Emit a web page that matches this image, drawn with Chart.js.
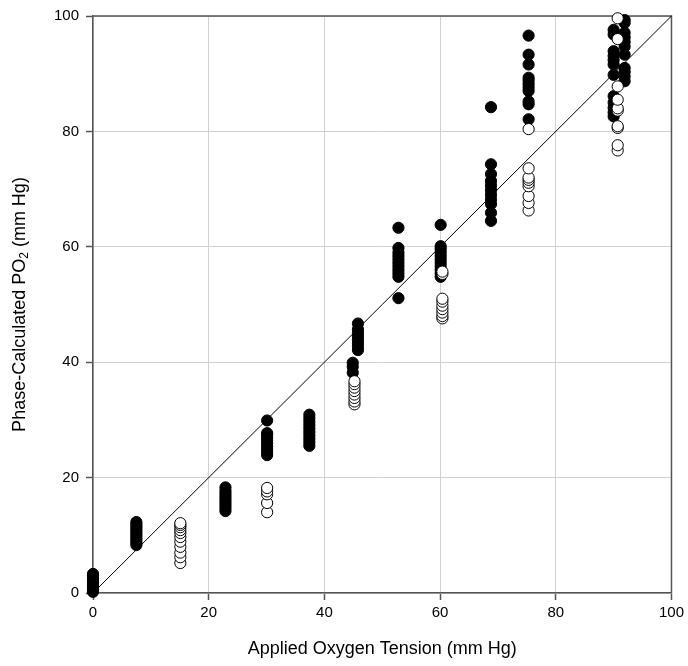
<!DOCTYPE html>
<html>
<head>
<meta charset="utf-8">
<script src="https://cdn.jsdelivr.net/npm/chart.js@4.4.1/dist/chart.umd.min.js"></script>
<style>
  html, body { margin: 0; padding: 0; background: #fff; }
  #wrap { width: 688px; height: 666px; }
</style>
</head>
<body>
<div id="wrap"><canvas id="chart" width="688" height="666"></canvas></div>
<script>
// Applied tension levels and the readings taken at each one
const filledTension = [0, 7.5, 22.9, 30.1, 37.4, 44.9, 45.8, 52.8, 60.1, 68.8, 75.3, 90.0, 91.9];
const filledReadings = [
  [0.2, 0.6, 1.0, 1.4, 1.8, 2.2, 2.6, 3.0, 3.3],
  [8.3, 8.7, 9.1, 9.5, 9.9, 10.3, 10.7, 11.1, 11.5, 11.9, 12.3],
  [14.2, 14.7, 15.2, 15.7, 16.2, 16.7, 17.2, 17.7, 18.3],
  [23.9, 24.4, 24.9, 25.4, 25.9, 26.4, 26.9, 27.4, 27.7, 29.9],
  [25.5, 26.1, 26.7, 27.3, 27.9, 28.5, 29.1, 29.7, 30.3, 30.9],
  [38.2, 39.2, 39.9],
  [42.1, 42.7, 43.3, 43.9, 44.5, 45.1, 45.7, 46.7],
  [51.1, 54.8, 55.4, 56.0, 56.6, 57.2, 57.8, 58.4, 59.0, 59.8, 63.3],
  [54.8, 55.4, 56.0, 56.6, 57.2, 57.8, 58.4, 59.0, 59.6, 60.1, 63.8],
  [64.5, 65.9, 67.4, 68.2, 69.0, 69.8, 70.6, 71.4, 72.6, 74.3, 84.2],
  [82.1, 84.7, 85.2, 87.0, 87.6, 88.2, 88.8, 89.3, 91.6, 93.3, 96.6],
  [82.6, 83.3, 84.1, 85.0, 86.1, 89.8, 91.6, 92.4, 93.1, 93.9, 96.8, 97.6],
  [88.7, 89.5, 90.3, 91.0, 93.3, 94.7, 95.5, 96.3, 97.1, 98.8, 99.3]
];

const openTension = [15.1, 30.1, 45.2, 60.4, 75.3, 90.7];
const openReadings = [
  [5.2, 6.2, 7.0, 8.0, 8.9, 9.7, 10.4, 10.9, 11.4, 11.8, 12.1],
  [14.0, 15.6, 17.1, 17.6, 18.2],
  [32.7, 33.2, 33.8, 34.4, 35.0, 35.6, 36.2, 36.7],
  [47.6, 48.0, 48.6, 49.2, 49.8, 50.5, 51.0, 55.3, 55.7],
  [66.3, 67.6, 68.8, 70.5, 71.1, 71.6, 72.0, 73.6, 80.4],
  [76.7, 77.6, 80.6, 80.9, 83.6, 84.0, 85.5, 87.8, 96.0, 99.6]
];

// line of identity
const identityX = [0, 100];
const identityY = [0, 100];

const axisTicks = [0, 20, 40, 60, 80, 100];

function toPoints(levels, readings) {
  const pts = [];
  levels.forEach((x, i) => {
    readings[i].forEach(y => pts.push({ x: x, y: y }));
  });
  return pts;
}

const FONT = 'Arial, "Liberation Sans", Helvetica, sans-serif';
const AXIS_COLOR = '#555';

// Frame on top / right (under the points), and y title with subscript
const framePlugin = {
  id: 'frame',
  beforeDatasetsDraw(chart) {
    const { ctx, chartArea } = chart;
    ctx.save();
    ctx.strokeStyle = AXIS_COLOR;
    ctx.lineWidth = 1.5;
    ctx.beginPath();
    ctx.moveTo(chartArea.left, chartArea.top);
    ctx.lineTo(chartArea.right, chartArea.top);
    ctx.lineTo(chartArea.right, chartArea.bottom);
    ctx.stroke();
    ctx.restore();
  },
  afterDraw(chart) {
    const { ctx, chartArea } = chart;
    ctx.save();
    const cy = (chartArea.top + chartArea.bottom) / 2;
    ctx.translate(20, cy);
    ctx.rotate(-Math.PI / 2);
    ctx.fillStyle = '#000';
    ctx.textBaseline = 'middle';
    const big = '18px ' + FONT;
    const small = '12px ' + FONT;
    const parts = [
      { t: 'Phase-Calculated PO', f: big, dy: 0 },
      { t: '2', f: small, dy: 5 },
      { t: ' (mm Hg)', f: big, dy: 0 }
    ];
    let total = 0;
    parts.forEach(p => { ctx.font = p.f; p.w = ctx.measureText(p.t).width; total += p.w; });
    let x = -total / 2;
    parts.forEach(p => {
      ctx.font = p.f;
      ctx.fillText(p.t, x, p.dy);
      x += p.w;
    });
    ctx.restore();
  }
};

const ctx = document.getElementById('chart').getContext('2d');

new Chart(ctx, {
  type: 'scatter',
  data: {
    datasets: [{
      label: 'identity',
      data: identityX.map((x, i) => ({ x: x, y: identityY[i] })),
      showLine: true,
      borderColor: '#000',
      borderWidth: 1,
      pointRadius: 0,
      clip: false,
      order: 0
    }, {
      label: 'open',
      data: toPoints(openTension, openReadings),
      backgroundColor: '#fff',
      borderColor: '#000',
      borderWidth: 1,
      pointRadius: 5.6,
      clip: false,
      order: 1
    }, {
      label: 'filled',
      data: toPoints(filledTension, filledReadings),
      backgroundColor: '#000',
      borderColor: '#000',
      borderWidth: 1,
      pointRadius: 5.6,
      clip: false,
      order: 2
    }]
  },
  options: {
    responsive: false,
    animation: false,
    layout: { padding: { top: 15, right: 16, left: 0, bottom: 0 } },
    plugins: {
      legend: { display: false },
      tooltip: { enabled: false }
    },
    scales: {
      x: {
        type: 'linear',
        min: 0,
        max: 100,
        afterBuildTicks: s => { s.ticks = axisTicks.map(v => ({ value: v })); },
        afterFit: s => { s.height = 73; },
        ticks: { color: '#000', font: { family: FONT, size: 15 }, padding: 4, maxRotation: 0 },
        grid: { color: '#d0d0d0', lineWidth: 1, tickLength: 7, tickColor: AXIS_COLOR, tickWidth: 1.5 },
        border: { color: AXIS_COLOR, width: 1.5 },
        title: {
          display: true,
          text: 'Applied Oxygen Tension (mm Hg)',
          color: '#000',
          font: { family: FONT, size: 18 },
          padding: { top: 0, bottom: 6 }
        }
      },
      y: {
        type: 'linear',
        min: 0,
        max: 100,
        afterBuildTicks: s => { s.ticks = axisTicks.map(v => ({ value: v })); },
        afterFit: s => { s.width = 93; },
        ticks: { color: '#000', font: { family: FONT, size: 15 }, padding: 7 },
        grid: { color: '#d0d0d0', lineWidth: 1, tickLength: 7, tickColor: AXIS_COLOR, tickWidth: 1.5 },
        border: { color: AXIS_COLOR, width: 1.5 }
      }
    }
  },
  plugins: [framePlugin]
});
</script>
</body>
</html>
